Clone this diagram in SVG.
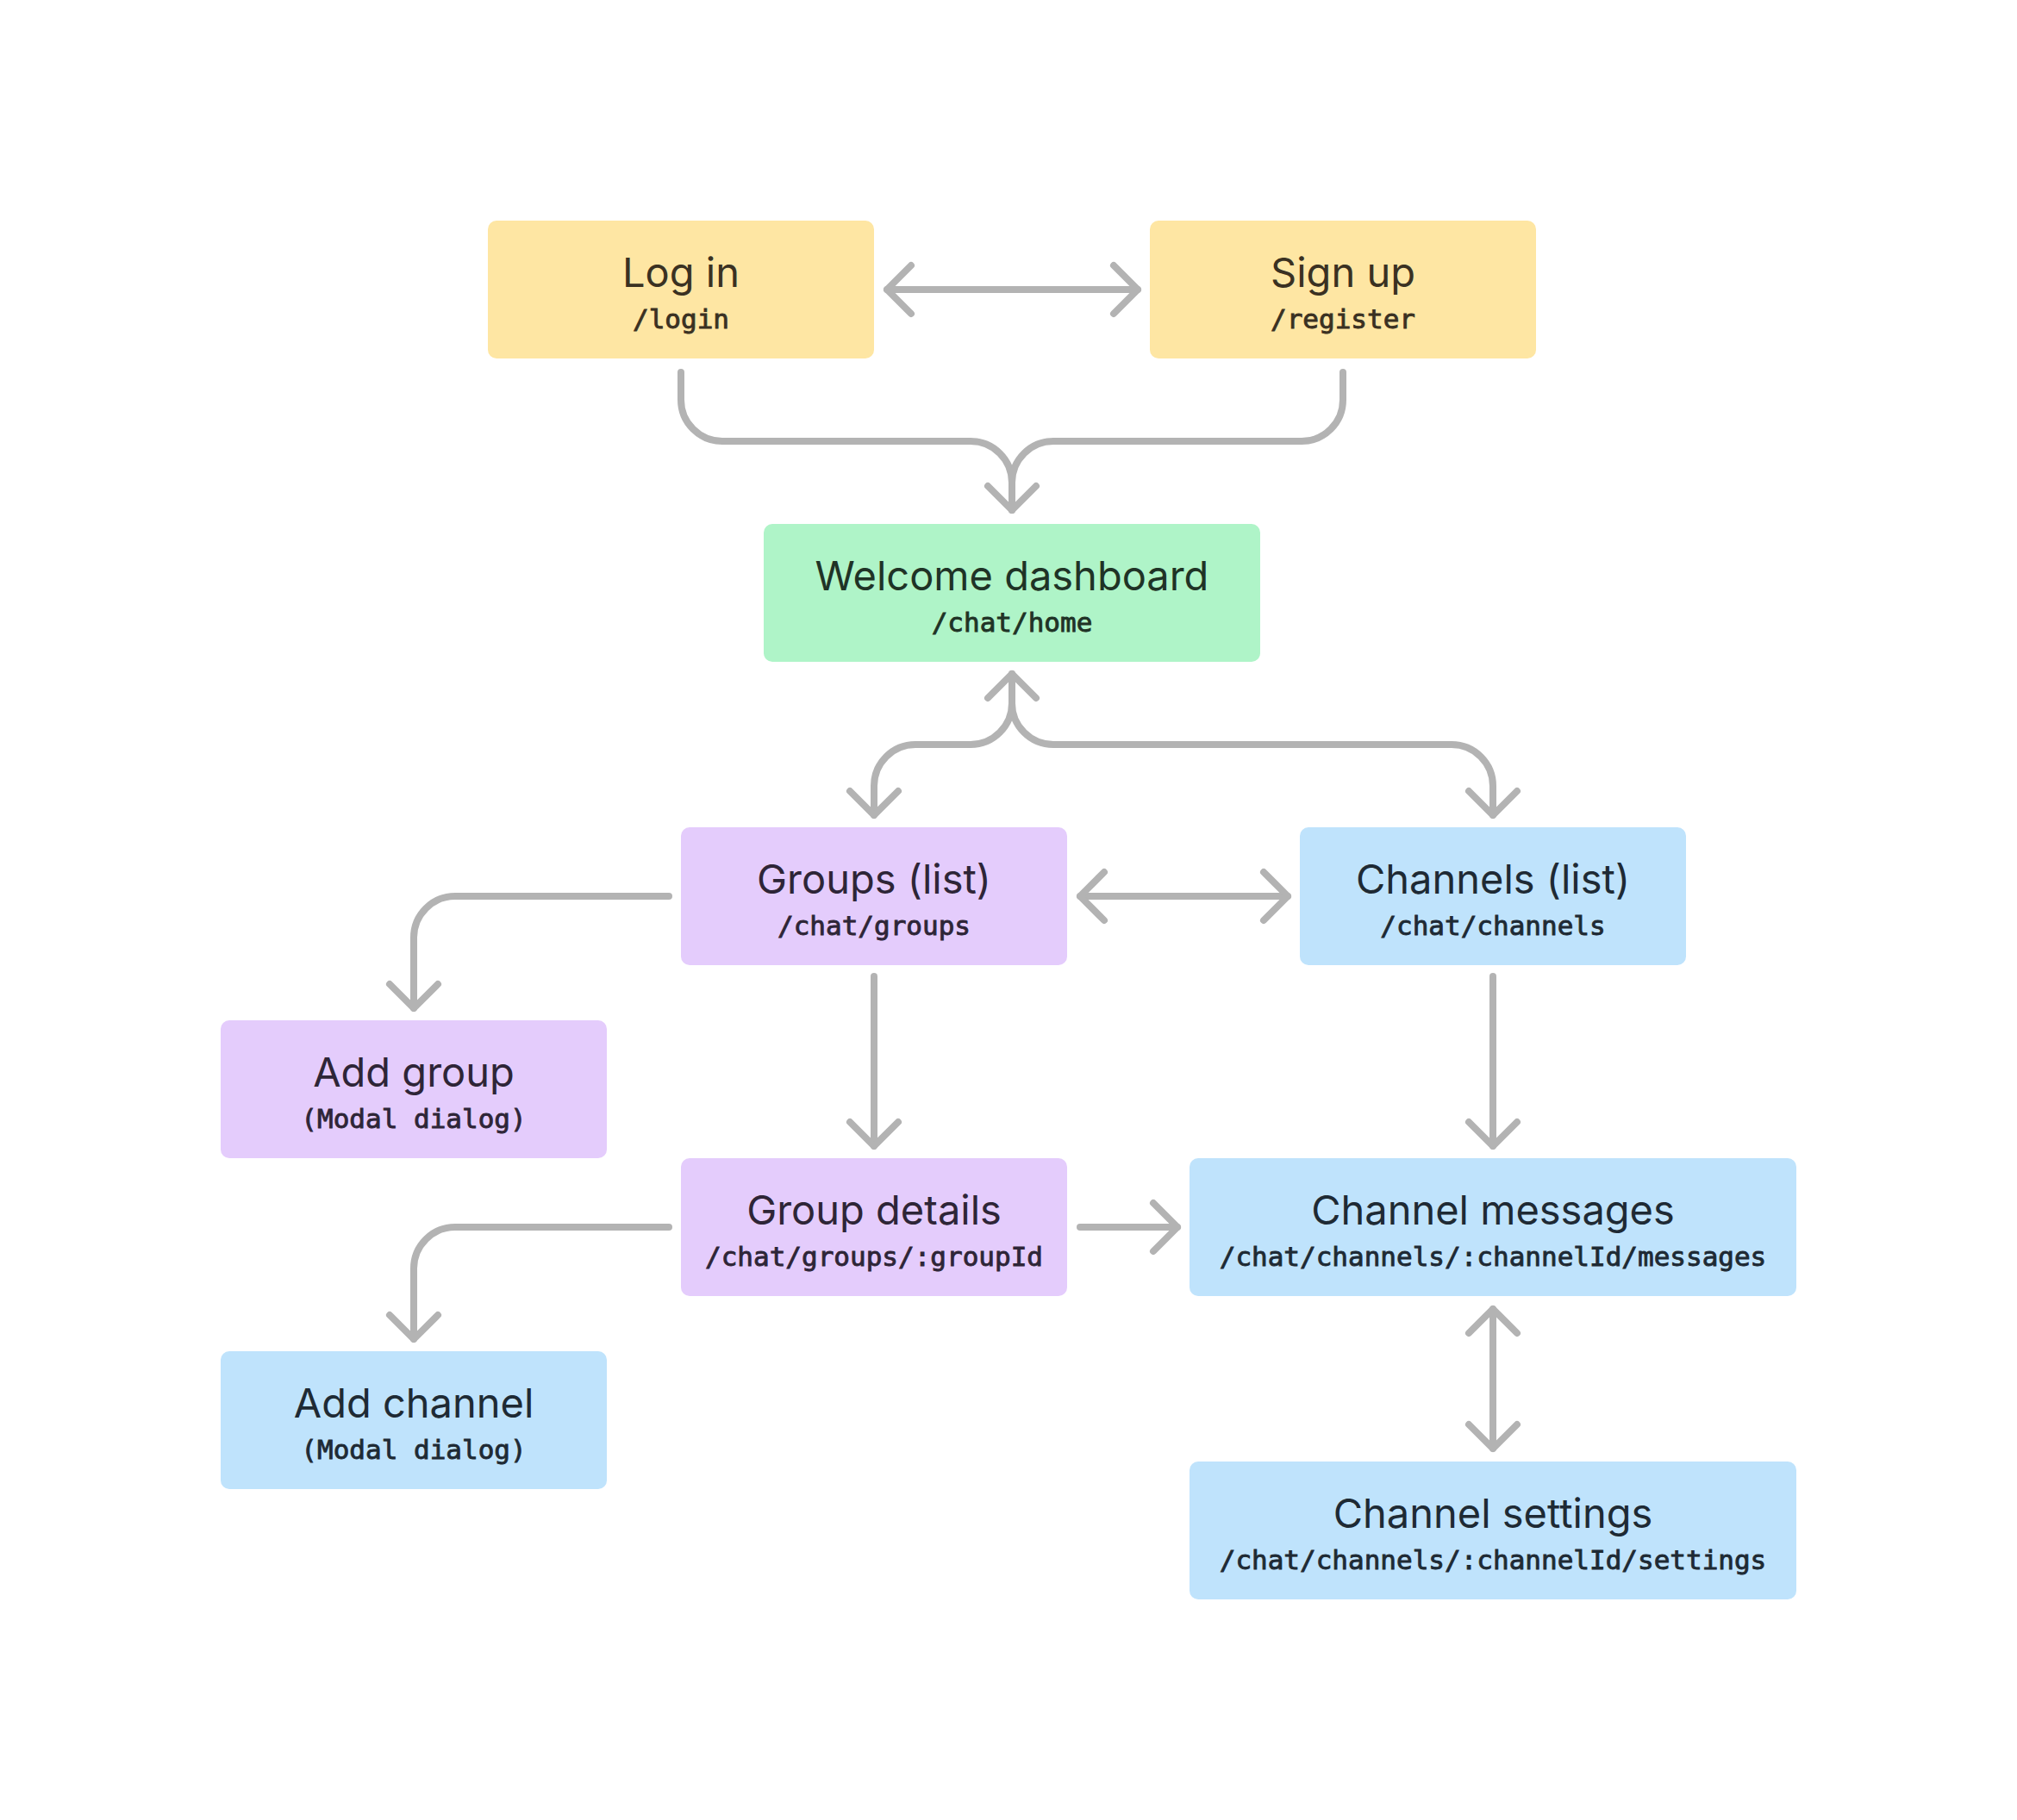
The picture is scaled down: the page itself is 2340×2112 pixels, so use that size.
<svg xmlns="http://www.w3.org/2000/svg" width="2340" height="2112" viewBox="0 0 2340 2112">
  <style>
    .box { stroke: none; }
    .yellow { fill: #FEE6A3; }
    .green { fill: #AFF4C8; }
    .purple { fill: #E4CCFC; }
    .blue { fill: #BFE3FC; }
    .title { font-family: Inter, "Liberation Sans", sans-serif; font-size: 47px; font-weight: 400; text-anchor: middle; }
    .route { font-family: "DejaVu Sans Mono", "Liberation Mono", monospace; font-size: 31px; font-weight: normal; stroke-width: 0.9px; text-anchor: middle; }
    .t-yellow { fill: #3A3122; stroke: #3A3122; }
    .t-green { fill: #1F3326; stroke: #1F3326; }
    .t-purple { fill: #2E2537; stroke: #2E2537; }
    .t-blue { fill: #1E2A34; stroke: #1E2A34; }
    .title.t-yellow, .title.t-green, .title.t-purple, .title.t-blue { stroke: none; }
    .conn { fill: none; stroke: #B3B3B3; stroke-width: 8; stroke-linecap: round; stroke-linejoin: round; }
  </style>
  <rect width="2340" height="2112" fill="#FFFFFF"/>

  <!-- connectors -->
  <g id="connectors" class="conn">
    <!-- login <-> register -->
    <path d="M1029 336 H1320"/>
    <polyline points="1057,308 1029,336 1057,364"/>
    <polyline points="1292,308 1320,336 1292,364"/>

    <!-- login / register -> dashboard -->
    <path d="M790 432 V464 A48 48 0 0 0 838 512 H1126 A48 48 0 0 1 1174 560 V592"/>
    <path d="M1558 432 V464 A48 48 0 0 1 1510 512 H1222 A48 48 0 0 0 1174 560 V592"/>
    <polyline points="1146,564 1174,592 1202,564"/>

    <!-- dashboard <-> groups / channels -->
    <path d="M1174 782 V816 A48 48 0 0 1 1126 864 H1062 A48 48 0 0 0 1014 912 V946"/>
    <path d="M1174 782 V816 A48 48 0 0 0 1222 864 H1684 A48 48 0 0 1 1732 912 V946"/>
    <polyline points="1146,810 1174,782 1202,810"/>
    <polyline points="986,918 1014,946 1042,918"/>
    <polyline points="1704,918 1732,946 1760,918"/>

    <!-- groups <-> channels -->
    <path d="M1253 1040 H1494"/>
    <polyline points="1281,1012 1253,1040 1281,1068"/>
    <polyline points="1466,1012 1494,1040 1466,1068"/>

    <!-- groups -> add group -->
    <path d="M776 1040 H528 A48 48 0 0 0 480 1088 V1170"/>
    <polyline points="452,1142 480,1170 508,1142"/>

    <!-- groups -> group details -->
    <path d="M1014 1133 V1330"/>
    <polyline points="986,1302 1014,1330 1042,1302"/>

    <!-- channels -> channel messages -->
    <path d="M1732 1133 V1330"/>
    <polyline points="1704,1302 1732,1330 1760,1302"/>

    <!-- group details -> add channel -->
    <path d="M776 1424 H528 A48 48 0 0 0 480 1472 V1554"/>
    <polyline points="452,1526 480,1554 508,1526"/>

    <!-- group details -> channel messages -->
    <path d="M1253 1424 H1366"/>
    <polyline points="1338,1396 1366,1424 1338,1452"/>

    <!-- channel messages <-> channel settings -->
    <path d="M1732 1519 V1681"/>
    <polyline points="1704,1547 1732,1519 1760,1547"/>
    <polyline points="1704,1653 1732,1681 1760,1653"/>
  </g>

  <!-- nodes -->
  <g id="node-login">
    <rect class="box yellow" x="566" y="256" width="448" height="160" rx="10"/>
    <text class="title t-yellow" x="790" y="333">Log in</text>
    <text class="route t-yellow" x="790" y="381">/login</text>
  </g>
  <g id="node-register">
    <rect class="box yellow" x="1334" y="256" width="448" height="160" rx="10"/>
    <text class="title t-yellow" x="1558" y="333">Sign up</text>
    <text class="route t-yellow" x="1558" y="381">/register</text>
  </g>
  <g id="node-home">
    <rect class="box green" x="886" y="608" width="576" height="160" rx="10"/>
    <text class="title t-green" x="1174" y="685">Welcome dashboard</text>
    <text class="route t-green" x="1174" y="733">/chat/home</text>
  </g>
  <g id="node-groups">
    <rect class="box purple" x="790" y="960" width="448" height="160" rx="10"/>
    <text class="title t-purple" x="1014" y="1037">Groups (list)</text>
    <text class="route t-purple" x="1014" y="1085">/chat/groups</text>
  </g>
  <g id="node-channels">
    <rect class="box blue" x="1508" y="960" width="448" height="160" rx="10"/>
    <text class="title t-blue" x="1732" y="1037">Channels (list)</text>
    <text class="route t-blue" x="1732" y="1085">/chat/channels</text>
  </g>
  <g id="node-add-group">
    <rect class="box purple" x="256" y="1184" width="448" height="160" rx="10"/>
    <text class="title t-purple" x="480" y="1261">Add group</text>
    <text class="route t-purple" x="480" y="1309">(Modal dialog)</text>
  </g>
  <g id="node-group-details">
    <rect class="box purple" x="790" y="1344" width="448" height="160" rx="10"/>
    <text class="title t-purple" x="1014" y="1421">Group details</text>
    <text class="route t-purple" x="1014" y="1469">/chat/groups/:groupId</text>
  </g>
  <g id="node-channel-messages">
    <rect class="box blue" x="1380" y="1344" width="704" height="160" rx="10"/>
    <text class="title t-blue" x="1732" y="1421">Channel messages</text>
    <text class="route t-blue" x="1732" y="1469">/chat/channels/:channelId/messages</text>
  </g>
  <g id="node-add-channel">
    <rect class="box blue" x="256" y="1568" width="448" height="160" rx="10"/>
    <text class="title t-blue" x="480" y="1645">Add channel</text>
    <text class="route t-blue" x="480" y="1693">(Modal dialog)</text>
  </g>
  <g id="node-channel-settings">
    <rect class="box blue" x="1380" y="1696" width="704" height="160" rx="10"/>
    <text class="title t-blue" x="1732" y="1773">Channel settings</text>
    <text class="route t-blue" x="1732" y="1821">/chat/channels/:channelId/settings</text>
  </g>
</svg>
